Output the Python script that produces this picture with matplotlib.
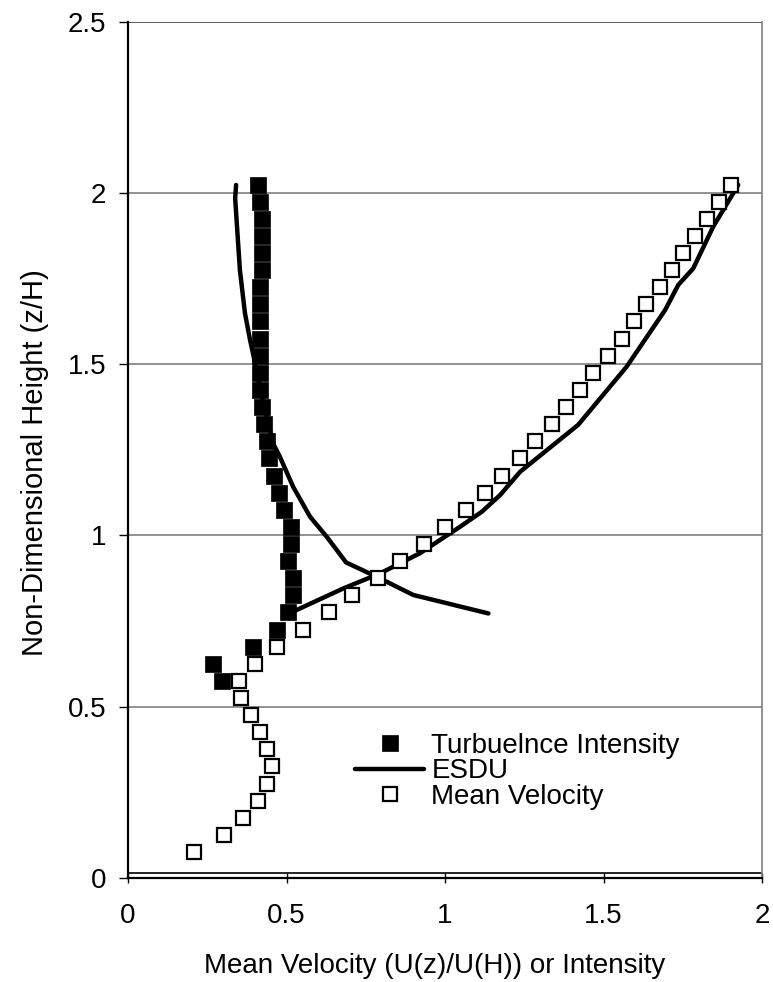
import matplotlib
matplotlib.use("Agg")
import matplotlib.pyplot as plt
import numpy as np

plt.rcParams['font.family'] = ['Liberation Sans', 'DejaVu Sans']

# Heights (z/H)
z_mean = [0.075, 0.125, 0.175, 0.225, 0.275, 0.325, 0.375, 0.425, 0.475, 0.525,
          0.575, 0.625, 0.675, 0.725, 0.775, 0.825, 0.875, 0.925, 0.975, 1.025,
          1.075, 1.125, 1.175, 1.225, 1.275, 1.325, 1.375, 1.425, 1.475, 1.525,
          1.575, 1.625, 1.675, 1.725, 1.775, 1.825, 1.875, 1.925, 1.975, 2.025]
mean_velocity = [0.208, 0.303, 0.364, 0.409, 0.440, 0.454, 0.440, 0.417, 0.387, 0.357,
                 0.350, 0.402, 0.469, 0.551, 0.635, 0.707, 0.788, 0.859, 0.934, 1.000,
                 1.067, 1.126, 1.179, 1.236, 1.284, 1.336, 1.381, 1.426, 1.468, 1.515,
                 1.557, 1.596, 1.634, 1.678, 1.717, 1.752, 1.790, 1.826, 1.864, 1.903]

z_turb = [0.575, 0.625, 0.675, 0.725, 0.775, 0.825, 0.875, 0.925, 0.975, 1.025,
          1.075, 1.125, 1.175, 1.225, 1.275, 1.325, 1.375, 1.425, 1.475, 1.525,
          1.575, 1.625, 1.675, 1.725, 1.775, 1.825, 1.875, 1.925, 1.975, 2.025]
turb_intensity = [0.298, 0.267, 0.393, 0.469, 0.505, 0.522, 0.522, 0.505, 0.514, 0.514,
                  0.492, 0.476, 0.462, 0.446, 0.440, 0.430, 0.422, 0.417, 0.417, 0.417,
                  0.417, 0.417, 0.417, 0.417, 0.424, 0.424, 0.424, 0.424, 0.417, 0.409]

# ESDU intensity profile
esdu_int_x = [0.341, 0.338, 0.353, 0.369, 0.385, 0.401, 0.422, 0.443, 0.458, 0.479,
              0.521, 0.574, 0.627, 0.688, 0.785, 0.900, 1.137]
esdu_int_z = [2.024, 1.985, 1.775, 1.649, 1.571, 1.503, 1.405, 1.327, 1.268, 1.230,
              1.142, 1.055, 0.996, 0.921, 0.879, 0.826, 0.772]
# ESDU velocity profile
esdu_vel_x = [0.527, 0.679, 0.795, 0.921, 1.047, 1.116, 1.174, 1.237, 1.420, 1.573,
              1.694, 1.736, 1.783, 1.846, 1.925]
esdu_vel_z = [0.780, 0.845, 0.889, 0.948, 1.025, 1.069, 1.118, 1.186, 1.323, 1.493,
              1.658, 1.732, 1.780, 1.902, 2.024]

x_ticks = [0, 0.5, 1, 1.5, 2]
x_tick_labels = ["0", "0.5", "1", "1.5", "2"]
y_ticks = [0, 0.5, 1, 1.5, 2, 2.5]
y_tick_labels = ["0", "0.5", "1", "1.5", "2", "2.5"]

fig = plt.figure(figsize=(7.73, 9.82), dpi=100)
ax = fig.add_axes([128/773, 104.3/982, (762-128)/773, (877.7-22)/982])

FS = 20

for yv in [0.5, 1.0, 1.5, 2.0]:
    ax.axhline(yv, color='#7f7f7f', lw=1.2, zorder=1)
ax.axhline(2.5, color='#404040', lw=1.2, zorder=1)
ax.axhline(0.013, color='black', lw=1.2, zorder=1)

h1, = ax.plot(turb_intensity, z_turb, ls='none', marker='s', ms=11.5,
              mfc='black', mec='black', mew=0.5, zorder=3, label='Turbuelnce Intensity')
h2, = ax.plot(esdu_int_x, esdu_int_z, color='black', lw=3.2, zorder=4,
              solid_capstyle='round', label='ESDU')
ax.plot(esdu_vel_x, esdu_vel_z, color='black', lw=3.2, zorder=4, solid_capstyle='round')
h3, = ax.plot(mean_velocity, z_mean, ls='none', marker='s', ms=10.5,
              mfc='white', mec='black', mew=1.6, zorder=5, label='Mean Velocity')

ax.set_xlim(0, 2)
ax.set_ylim(0, 2.5)
ax.set_xticks(x_ticks)
ax.set_xticklabels(x_tick_labels, fontsize=FS)
ax.set_yticks(y_ticks)
ax.set_yticklabels(y_tick_labels, fontsize=FS)
ax.tick_params(axis='x', direction='inout', length=6.5, width=1, pad=15)
ax.tick_params(axis='y', direction='out', length=6.5, width=1, pad=9)

ax.spines['top'].set_visible(False)
ax.spines['right'].set_color('#7f7f7f')
ax.spines['right'].set_linewidth(1.2)
ax.spines['left'].set_linewidth(1.6)
ax.spines['bottom'].set_linewidth(1.6)

ax.set_xlabel("Mean Velocity (U(z)/U(H)) or Intensity", fontsize=FS)
ax.xaxis.set_label_coords((435-128)/634, (877.7-973)/855.7)
ax.xaxis.label.set_va('baseline')
ax.set_ylabel("Non-Dimensional Height (z/H)", fontsize=21)
ax.yaxis.set_label_coords((49-128)/634, (877.7-463)/855.7)

leg = ax.legend(handles=[h1, h2, h3], frameon=False, fontsize=FS,
                loc='upper left', bbox_to_anchor=((355-128)/634, (877.7-733)/855.7),
                handlelength=2.5, handletextpad=0.25, labelspacing=-0.02,
                borderpad=0, borderaxespad=0)

fig.savefig("out.png", dpi=100)
